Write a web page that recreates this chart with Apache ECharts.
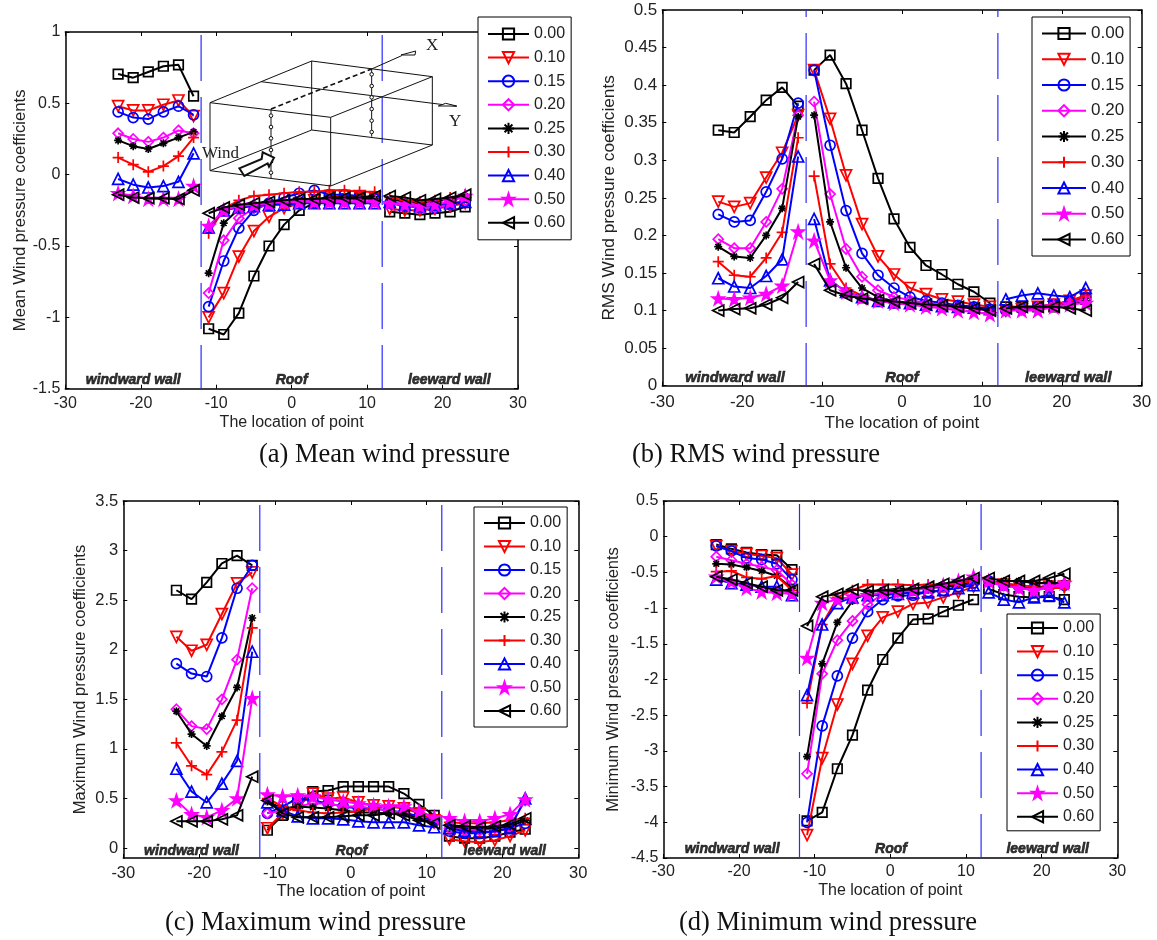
<!DOCTYPE html>
<html lang="en">
<head>
    <meta charset="UTF-8">
    <title>Wind pressure coefficients</title>
    <script src="https://cdn.jsdelivr.net/npm/echarts/dist/echarts.min.js"></script>
    <style>
        body { margin: 0; padding: 0; background-color: #fff; }
        #chart { width: 1157px; height: 940px; }
    </style>
</head>
<body>
<div id="chart"></div>
<script>
    // point locations: windward wall, roof, leeward wall (null row at the two edges breaks the line)
    const windwardX = [-23, -21, -19, -17, -15, -13];
    const roofX = [-11, -9, -7, -5, -3, -1, 1, 3, 5, 7, 9, 11];
    const leewardX = [13, 15, 17, 19, 21, 23];
    const seriesNames = ["0.00", "0.10", "0.15", "0.20", "0.25", "0.30", "0.40", "0.50", "0.60"];

    const xTicks = [-30, -20, -10, 0, 10, 20, 30];
    const meanTicks = [-1.5, -1, -0.5, 0, 0.5, 1];
    const rmsTicks = [0, 0.05, 0.1, 0.15, 0.2, 0.25, 0.3, 0.35, 0.4, 0.45, 0.5];
    const maxTicks = [0, 0.5, 1, 1.5, 2, 2.5, 3, 3.5];
    const minTicks = [-4.5, -4, -3.5, -3, -2.5, -2, -1.5, -1, -0.5, 0, 0.5];

    // each row: one series, 6 windward + 12 roof + 6 leeward values
    const meanValues = [
        [.705,.68,.72,.76,.77,.55, -1.08,-1.12,-.97,-.71,-.5,-.35,-.25,-.2,-.18,-.17,-.17,-.17, -.26,-.27,-.28,-.27,-.26,-.225],
        [.48,.45,.45,.49,.52,.41, -1,-.83,-.575,-.395,-.295,-.235,-.2,-.18,-.16,-.15,-.15,-.16, -.24,-.25,-.25,-.24,-.22,-.2],
        [.44,.4,.39,.44,.48,.42, -.925,-.605,-.375,-.25,-.2,-.16,-.13,-.11,-.14,-.14,-.15,-.17, -.2,-.22,-.23,-.23,-.21,-.19],
        [.29,.25,.23,.26,.31,.29, -.83,-.46,-.305,-.235,-.21,-.2,-.19,-.19,-.19,-.19,-.19,-.19, -.2,-.21,-.23,-.23,-.21,-.18],
        [.24,.2,.18,.22,.26,.3, -.69,-.34,-.24,-.21,-.2,-.19,-.18,-.17,-.17,-.17,-.17,-.17, -.17,-.19,-.2,-.19,-.17,-.15],
        [.12,.07,.02,.06,.13,.26, -.41,-.24,-.18,-.15,-.14,-.13,-.12,-.12,-.11,-.11,-.12,-.12, -.16,-.18,-.19,-.18,-.16,-.14],
        [-.03,-.07,-.09,-.08,-.05,.15, -.37,-.25,-.23,-.22,-.21,-.21,-.2,-.2,-.2,-.2,-.2,-.2, -.19,-.21,-.22,-.21,-.2,-.19],
        [-.13,-.15,-.17,-.17,-.17,-.08, -.36,-.25,-.22,-.21,-.2,-.19,-.19,-.19,-.19,-.19,-.19,-.19, -.2,-.21,-.22,-.21,-.19,-.15],
        [-.14,-.16,-.165,-.165,-.17,-.11, -.27,-.23,-.21,-.2,-.19,-.18,-.17,-.17,-.16,-.16,-.16,-.15, -.15,-.16,-.18,-.17,-.16,-.14]
    ];
    const rmsValues = [
        [.34,.337,.358,.38,.397,.372, .42,.44,.402,.34,.276,.222,.184,.16,.148,.135,.125,.11, .105,.105,.105,.105,.11,.115],
        [.245,.238,.243,.277,.31,.36, .42,.355,.28,.215,.172,.148,.13,.122,.115,.112,.108,.105, .1,.102,.105,.108,.113,.12],
        [.228,.218,.22,.258,.302,.376, .42,.32,.233,.176,.147,.13,.118,.113,.11,.107,.105,.102, .1,.102,.105,.108,.112,.118],
        [.195,.183,.183,.218,.262,.36, .378,.255,.182,.145,.127,.118,.114,.11,.108,.105,.103,.1, .1,.102,.105,.108,.11,.115],
        [.185,.172,.17,.2,.236,.358, .36,.218,.157,.13,.118,.112,.11,.108,.107,.106,.104,.102, .1,.102,.103,.105,.108,.113],
        [.165,.147,.145,.17,.204,.33, .279,.162,.13,.12,.113,.11,.108,.107,.106,.105,.103,.101, .103,.105,.105,.108,.112,.12],
        [.143,.132,.13,.146,.168,.305, .222,.14,.125,.118,.113,.111,.11,.108,.106,.105,.104,.102, .115,.12,.123,.12,.118,.13],
        [.116,.115,.117,.122,.133,.205, .193,.14,.125,.117,.113,.11,.108,.105,.103,.1,.098,.095, .1,.1,.1,.105,.108,.11],
        [.1,.102,.103,.108,.117,.138, .162,.127,.12,.116,.114,.112,.11,.108,.107,.105,.103,.1, .103,.105,.105,.105,.103,.1]
    ];
    const maxValues = [
        [2.6,2.51,2.68,2.87,2.95,2.85, .18,.33,.45,.57,.58,.62,.62,.62,.62,.55,.44,.33, .12,.1,.1,.12,.16,.19],
        [2.13,1.99,2.05,2.36,2.67,2.78, .2,.35,.42,.55,.5,.51,.46,.43,.42,.4,.35,.28, .09,.07,.06,.08,.12,.18],
        [1.86,1.76,1.73,2.12,2.62,2.85, .35,.42,.5,.48,.45,.42,.4,.4,.38,.36,.32,.27, .17,.15,.15,.17,.2,.25],
        [1.4,1.23,1.2,1.5,1.9,2.62, .35,.38,.42,.45,.45,.42,.42,.4,.38,.35,.3,.25, .2,.18,.18,.2,.22,.48],
        [1.38,1.15,1.03,1.33,1.62,2.32, .47,.4,.42,.41,.4,.38,.36,.36,.35,.35,.3,.25, .22,.2,.2,.2,.22,.28],
        [1.06,.83,.74,.97,1.29,2.22, .5,.42,.38,.36,.35,.36,.37,.4,.43,.42,.38,.3, .26,.25,.25,.26,.28,.3],
        [.8,.57,.46,.65,.88,1.98, .46,.38,.32,.3,.3,.29,.27,.26,.26,.26,.23,.21, .2,.17,.16,.17,.2,.5],
        [.48,.34,.31,.38,.5,1.51, .54,.52,.53,.52,.49,.47,.45,.43,.42,.42,.37,.31, .3,.27,.27,.3,.34,.49],
        [.27,.27,.27,.29,.33,.72, .48,.35,.31,.31,.31,.32,.33,.33,.35,.33,.28,.25, .23,.22,.21,.22,.24,.3]
    ];
    const minValues = [
        [-.11,-.17,-.22,-.25,-.26,-.46, -3.98,-3.86,-3.25,-2.78,-2.15,-1.72,-1.42,-1.16,-1.15,-1.05,-.96,-.88, -.73,-.81,-.84,-.85,-.84,-.88],
        [-.13,-.2,-.24,-.27,-.3,-.53, -4.18,-3.1,-2.35,-1.78,-1.39,-1.13,-1.05,-.94,-.92,-.85,-.78,-.7, -.65,-.67,-.7,-.7,-.7,-.7],
        [-.13,-.2,-.3,-.32,-.38,-.6, -4,-2.65,-1.95,-1.42,-1.05,-.88,-.83,-.82,-.77,-.75,-.7,-.65, -.62,-.68,-.7,-.72,-.7,-.68],
        [-.28,-.33,-.38,-.42,-.47,-.67, -3.32,-1.92,-1.45,-1.18,-.95,-.8,-.78,-.75,-.72,-.7,-.65,-.6, -.65,-.68,-.72,-.75,-.72,-.68],
        [-.38,-.39,-.43,-.48,-.55,-.72, -3.08,-1.78,-1.2,-.9,-.78,-.75,-.73,-.73,-.72,-.7,-.68,-.62, -.65,-.62,-.62,-.65,-.65,-.65],
        [-.49,-.48,-.57,-.59,-.55,-.75, -2.33,-1.23,-.85,-.75,-.67,-.67,-.67,-.68,-.67,-.67,-.65,-.62, -.62,-.65,-.68,-.7,-.72,-.72],
        [-.6,-.65,-.67,-.7,-.7,-.82, -2.22,-1.23,-.93,-.85,-.82,-.82,-.8,-.78,-.78,-.75,-.72,-.68, -.78,-.88,-.92,-.85,-.82,-.92],
        [-.56,-.63,-.72,-.77,-.79,-.8, -1.7,-.93,-.88,-.84,-.82,-.78,-.77,-.75,-.72,-.68,-.62,-.56, -.62,-.68,-.72,-.75,-.7,-.65],
        [-.56,-.6,-.65,-.7,-.75,-.75, -1.25,-.84,-.8,-.74,-.76,-.75,-.76,-.73,-.7,-.66,-.62,-.58, -.58,-.62,-.62,-.62,-.58,-.52]
    ];

    const wallNames = ["windward wall", "Roof", "leeward wall"];

    // line colour, marker and fill per series, same in all four panels
    const colors = ["#000", "#ff0000", "#0000ff", "#ff00ff", "#000", "#ff0000", "#0000ff", "#ff00ff", "#000"];
    const symbols = [
        "rect",
        "path://M0 0H10L5 10Z",
        "circle",
        "path://M5 0L10 5L5 10L0 5Z",
        "path://M5 0V10M0 5H10M1.5 1.5L8.5 8.5M1.5 8.5L8.5 1.5",
        "path://M5 0V10M0 5H10",
        "path://M5 0L10 10H0Z",
        "path://M5 0L6.2 3.6H10L6.9 5.9L8.1 9.5L5 7.3L1.9 9.5L3.1 5.9L0 3.6H3.8Z",
        "path://M0 5L10 0V10Z"
    ];
    const symbolSizes = [9.5, 11, 10, 10, 8, 11, 11, 12, 11];
    const symbolFills = ["transparent", "transparent", "transparent", "transparent", "#000", "transparent", "transparent", "#ff00ff", "transparent"];

    // four panels
    const panels = [
        {
            values: meanValues, ticks: meanTicks, min: -1.5, max: 1, title: "Mean Wind pressure coefficients",
            box: [65.3, 32, 518, 388.7], nameGap: 36.5, nameFont: 16.7, xName: { font: 16, gap: 26 }, tickFont: 16, tickMargin: 7,
            wallY: -1.44, wallX: [-21, 0, 20.9], wallFont: 14,
            dash: 59, legend: { left: 478, top: 17, gap: 7.6, lineW: 41, font: 16, pad: [9, 6, 9, 9] }
        },
        {
            values: rmsValues, ticks: rmsTicks, min: 0, max: 0.5, title: "RMS Wind pressure coefficients",
            box: [662.3, 10, 1141.7, 385.7], nameGap: 45, nameFont: 17.3, xName: { font: 17.2, gap: 29 }, tickFont: 17, tickMargin: 8,
            wallY: 0.01, wallX: [-20.9, 0, 20.8], wallFont: 14.7,
            dash: 39, legend: { left: 1032, top: 17, gap: 8.75, lineW: 44, font: 17, pad: [8, 6, 8, 9] }
        },
        {
            values: maxValues, ticks: maxTicks, min: -0.1, max: 3.5, title: "Maximum Wind pressure coefficients",
            box: [123.3, 501, 578.3, 858], nameGap: 34, nameFont: 16.5, xName: { font: 16.5, gap: 25 }, tickFont: 16.5, tickMargin: 7,
            wallY: -0.03, wallX: [-21, 0.1, 20.3], wallFont: 14,
            dash: 58, legend: { left: 474, top: 507, gap: 7.5, lineW: 41, font: 16, pad: [8, 6, 8, 9] }
        },
        {
            values: minValues, ticks: minTicks, min: -4.5, max: 0.5, title: "Minimum Wind pressure coefficients",
            box: [663.3, 501, 1117.3, 858], nameGap: 41, nameFont: 16.5, xName: { font: 16, gap: 25 }, tickFont: 16, tickMargin: 6,
            wallY: -4.38, wallX: [-20.9, 0.1, 20.8], wallFont: 14,
            dash: 59, legend: { left: 1007, top: 614, gap: 7.6, lineW: 41, font: 16, pad: [6, 6, 6, 9] }
        }
    ];

    const captions = [
        { text: "(a) Mean wind pressure", x: 259, y: 455 },
        { text: "(b) RMS wind pressure", x: 632, y: 455 },
        { text: "(c) Maximum wind pressure", x: 165, y: 923 },
        { text: "(d) Minimum wind pressure", x: 679, y: 923 }
    ];

    // building sketch in panel (a), in px of a crop starting at 195,35 and scaled 3x
    const sketchLines = [
        [[45,203],[350,78],[712,125],[407,247],[45,203]],
        [[45,407],[350,285],[712,330],[407,453],[45,407]],
        [[45,203],[45,407]], [[350,78],[350,285]], [[712,125],[712,330]], [[407,247],[407,453]],
        [[198,140],[785,214]],
        [[228,222],[228,430]], [[530,102],[530,305]],
        [[530,102],[620,62]]
    ];
    const sketchDots = [[228,242],[228,276],[228,310],[228,345],[228,380],[228,413],[530,118],[530,153],[530,187],[530,222],[530,257],[530,291]];
    const sketchArrowX = [[618,60],[662,48],[660,60]];
    const sketchArrowY = [[730,213],[785,213],[752,205]];
    const sketchWind = [[133,400],[200,372],[203,352],[237,368],[222,395],[218,385],[148,423]];
    const toPx = (p) => [195 + p[0] / 3, 35 + p[1] / 3];

    const baseText = { fontFamily: "'Liberation Sans', Arial, sans-serif", color: "#222" };
    const grid = [], xAxis = [], yAxis = [], series = [], legend = [], graphic = [];

    panels.forEach((panel, i) => {
        const [x0, y0, x1, y1] = panel.box;
        grid.push({ left: x0, top: y0, width: x1 - x0, height: y1 - y0 });

        const axisLine = { onZero: false, lineStyle: { color: "#000", width: 1.5 } };
        const tickStyle = (values) => ({ inside: true, length: 4, customValues: values, lineStyle: { color: "#000", width: 1 } });

        xAxis.push({
            type: "value", gridIndex: i, min: -30, max: 30, position: "bottom",
            name: "The location of point", nameLocation: "middle", nameGap: panel.xName.gap,
            nameTextStyle: { ...baseText, fontSize: panel.xName.font },
            axisLine, axisTick: tickStyle(xTicks), splitLine: { show: false },
            axisLabel: { ...baseText, fontSize: panel.tickFont, margin: panel.tickMargin, customValues: xTicks }
        });
        xAxis.push({
            type: "value", gridIndex: i, min: -30, max: 30, position: "top",
            axisLine, axisTick: tickStyle(xTicks), splitLine: { show: false }, axisLabel: { show: false }
        });
        yAxis.push({
            type: "value", gridIndex: i, min: panel.min, max: panel.max, position: "left",
            name: panel.title, nameLocation: "middle", nameGap: panel.nameGap,
            nameTextStyle: { ...baseText, fontSize: panel.nameFont },
            axisLine, axisTick: tickStyle(panel.ticks), splitLine: { show: false },
            axisLabel: { ...baseText, fontSize: panel.tickFont, margin: 5, customValues: panel.ticks }
        });
        yAxis.push({
            type: "value", gridIndex: i, min: panel.min, max: panel.max, position: "right",
            axisLine, axisTick: tickStyle(panel.ticks), splitLine: { show: false }, axisLabel: { show: false }
        });

        const xIndex = i * 2, yIndex = i * 2;

        // dashed wall/roof edges
        [-12, 12].forEach((edge) => {
            series.push({
                name: "edge", type: "line", xAxisIndex: xIndex, yAxisIndex: yIndex, symbol: "none", z: 1,
                data: [[edge, panel.max], [edge, panel.min]],
                lineStyle: { color: "#2a2aff", width: 1.2, type: [46, 16], dashOffset: panel.dash }
            });
        });

        // pressure curves
        panel.values.forEach((row, k) => {
            const data = [
                ...windwardX.map((x, j) => [x, row[j]]), [-12, null],
                ...roofX.map((x, j) => [x, row[j + windwardX.length]]), [12, null],
                ...leewardX.map((x, j) => [x, row[j + windwardX.length + roofX.length]])
            ];
            series.push({
                name: seriesNames[k], type: "line", xAxisIndex: xIndex, yAxisIndex: yIndex, z: 2 + k,
                data, symbol: symbols[k], symbolSize: symbolSizes[k], showAllSymbol: true,
                lineStyle: { color: colors[k], width: 2 },
                itemStyle: { color: symbolFills[k], borderColor: colors[k], borderWidth: 1.7 }
            });
        });

        // wall names, anchored to the axes
        series.push({
            name: "walls", type: "scatter", xAxisIndex: xIndex, yAxisIndex: yIndex, symbolSize: 0, z: 20,
            data: panel.wallX.map((x, j) => ({ value: [x, panel.wallY], name: wallNames[j] })),
            label: {
                show: true, position: "inside", formatter: "{b}", fontFamily: "'Liberation Sans', Arial, sans-serif",
                fontSize: panel.wallFont, fontWeight: "bold", fontStyle: "italic", color: "#000",
                textBorderColor: "#000", textBorderWidth: 0.6
            }
        });

        legend.push({
            data: seriesNames, orient: "vertical", left: panel.legend.left, top: panel.legend.top,
            itemWidth: panel.legend.lineW, itemHeight: 14, itemGap: panel.legend.gap, padding: panel.legend.pad,
            backgroundColor: "#fff", borderColor: "#000", borderWidth: 1, z: 30, selectedMode: false,
            textStyle: { ...baseText, fontSize: panel.legend.font, padding: [0, 0, 0, 0] }
        });
    });

    captions.forEach((c) => {
        graphic.push({
            type: "text", x: c.x, y: c.y, z: 40,
            style: { text: c.text, fill: "#111", font: "26.5px 'Liberation Serif', 'Times New Roman', serif", verticalAlign: "middle" }
        });
    });

    sketchLines.forEach((line) => {
        graphic.push({ type: "polyline", z: 25, shape: { points: line.map(toPx) }, style: { stroke: "#111", lineWidth: 1, fill: null } });
    });
    graphic.push({ type: "polyline", z: 25, shape: { points: [[228,222],[530,102]].map(toPx) }, style: { stroke: "#111", lineWidth: 1.6, lineDash: [5, 3], fill: null } });
    sketchDots.forEach((d) => {
        const [cx, cy] = toPx(d);
        graphic.push({ type: "circle", z: 25, shape: { cx, cy, r: 1.8 }, style: { stroke: "#111", lineWidth: 1, fill: "#fff" } });
    });
    [sketchArrowX, sketchArrowY].forEach((a) => {
        graphic.push({ type: "polygon", z: 25, shape: { points: a.map(toPx) }, style: { stroke: "#111", lineWidth: 1, fill: "#fff" } });
    });
    graphic.push({ type: "polygon", z: 25, shape: { points: sketchWind.map(toPx) }, style: { stroke: "#111", lineWidth: 2, fill: "#fff" } });
    [["Wind", 202, 154], ["X", 426, 46], ["Y", 449, 122]].forEach(([text, x, y]) => {
        graphic.push({
            type: "text", x, y, z: 26,
            style: { text, fill: "#222", font: "17px 'Liberation Serif', 'Times New Roman', serif", verticalAlign: "middle" }
        });
    });

    const chart = echarts.init(document.getElementById("chart"));
    chart.setOption({
        animation: false,
        backgroundColor: "#fff",
        grid, xAxis, yAxis, series, legend, graphic
    });
</script>
</body>
</html>
